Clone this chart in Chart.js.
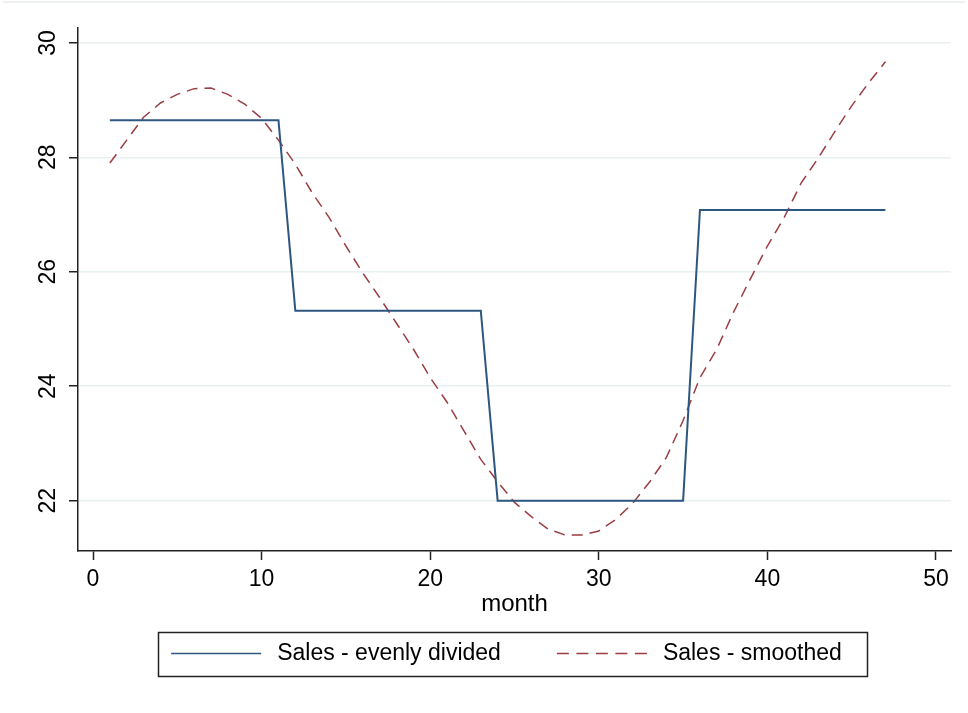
<!DOCTYPE html>
<html>
<head>
<meta charset="utf-8">
<title>Sales by month</title>
<script src="https://cdn.jsdelivr.net/npm/chart.js@4.4.1/dist/chart.umd.min.js"></script>
<style>
  html, body { margin: 0; padding: 0; background: #fff; }
  #wrap { width: 968px; height: 713px; }
</style>
</head>
<body>
<div id="wrap"><canvas id="myChart"></canvas></div>
<script>
const months = [
  1, 2, 3, 4, 5, 6, 7, 8, 9, 10, 11, 12, 13, 14, 15, 16,
  17, 18, 19, 20, 21, 22, 23, 24, 25, 26, 27, 28, 29, 30, 31, 32,
  33, 34, 35, 36, 37, 38, 39, 40, 41, 42, 43, 44, 45, 46, 47
];

const evenlyDivided = [
  28.65, 28.65, 28.65, 28.65, 28.65, 28.65, 28.65, 28.65, 28.65, 28.65, 28.65,
  25.32, 25.32, 25.32, 25.32, 25.32, 25.32, 25.32, 25.32, 25.32, 25.32, 25.32, 25.32,
  22.0, 22.0, 22.0, 22.0, 22.0, 22.0, 22.0, 22.0, 22.0, 22.0, 22.0, 22.0,
  27.08, 27.08, 27.08, 27.08, 27.08, 27.08, 27.08, 27.08, 27.08, 27.08, 27.08, 27.08
];

const smoothed = [
  27.90, 28.30, 28.70, 28.95, 29.10, 29.20, 29.21, 29.10, 28.93, 28.68,
  28.30, 27.88, 27.38, 26.95, 26.45, 25.98, 25.55, 25.10, 24.65, 24.15,
  23.72, 23.22, 22.72, 22.33, 21.97, 21.72, 21.50, 21.40, 21.40, 21.47,
  21.67, 21.95, 22.32, 22.75, 23.40, 24.15, 24.65, 25.30, 25.88, 26.45,
  26.95, 27.55, 27.98, 28.45, 28.90, 29.30, 29.67
];

const xTicks = [0, 10, 20, 30, 40, 50];
const yTicks = [22, 24, 26, 28, 30];

const seriesNames = ["Sales - evenly divided", "Sales - smoothed"];

const BLUE = "#2e5780";
const RED = "#9a3e44";
const FONT = "'Liberation Sans', Arial, sans-serif";
const KEY_GAP = 46; // blank space before each legend line sample

const toPoints = (ys) => months.map((m, i) => ({ x: m, y: ys[i] }));

// light frame line at the top and the box round the legend
const framePlugin = {
  id: "frame",
  beforeDraw(chart) {
    const c = chart.ctx;
    c.save();
    c.strokeStyle = "#edf1f1";
    c.lineWidth = 2;
    c.beginPath();
    c.moveTo(3, 2);
    c.lineTo(chart.width - 3, 2);
    c.stroke();
    c.restore();
  },
  afterDraw(chart) {
    const hb = chart.legend && chart.legend.legendHitBoxes;
    if (!hb || hb.length < 2) return;
    const c = chart.ctx;
    const left = hb[0].left + KEY_GAP - 13;
    const right = hb[1].left + hb[1].width + 25;
    const mid = hb[0].top + hb[0].height / 2;
    c.save();
    c.strokeStyle = "#222";
    c.lineWidth = 1.5;
    c.strokeRect(Math.round(left) + 0.5, Math.round(mid - 22) + 0.5,
      Math.round(right - left), 44);
    c.restore();
  },
};

const data = {
  datasets: [
    {
      label: seriesNames[0],
      data: toPoints(evenlyDivided),
      borderColor: BLUE,
      backgroundColor: BLUE,
      borderWidth: 2,
      pointRadius: 0,
      tension: 0,
    },
    {
      label: seriesNames[1],
      data: toPoints(smoothed),
      borderColor: RED,
      backgroundColor: RED,
      borderWidth: 1.5,
      borderDash: [11, 7],
      pointRadius: 0,
      tension: 0,
    },
  ],
};

const config = {
  type: "line",
  data: data,
  plugins: [framePlugin],
  options: {
    responsive: true,
    maintainAspectRatio: false,
    animation: false,
    layout: { padding: { left: 16, right: 17, top: 28, bottom: 38 } },
    plugins: {
      tooltip: { enabled: false },
      legend: {
        position: "bottom",
        labels: {
          color: "#000",
          font: { family: FONT, size: 23 },
          usePointStyle: true,
          pointStyle: "line",
          pointStyleWidth: KEY_GAP + 94.5,
          padding: 10,
          generateLabels(chart) {
            const items = Chart.defaults.plugins.legend.labels.generateLabels(chart);
            items[0].lineDash = [0, KEY_GAP, 90, 400];
            items[0].lineWidth = 1.5;
            items[1].lineDash = [0, KEY_GAP, 12, 7.5, 12, 7.5, 12, 7.5, 12, 7.5, 12, 400];
            items[1].lineWidth = 1.5;
            return items;
          },
        },
      },
    },
    scales: {
      x: {
        type: "linear",
        min: -0.89,
        max: 50.89,
        afterFit(scale) { scale.height = 81; },
        afterBuildTicks(scale) { scale.ticks = xTicks.map((v) => ({ value: v })); },
        border: { color: "#222", width: 1.5 },
        grid: {
          drawOnChartArea: false,
          drawTicks: true,
          tickLength: 9,
          tickColor: "#222",
          tickWidth: 1.5,
        },
        ticks: {
          color: "#000",
          padding: 6,
          maxRotation: 0,
          autoSkip: false,
          font: { family: FONT, size: 23 },
        },
        title: {
          display: true,
          text: "month",
          color: "#000",
          padding: { top: 0, bottom: 13 },
          font: { family: FONT, size: 24 },
        },
      },
      y: {
        min: 21.12,
        max: 30.26,
        afterFit(scale) { scale.width = 62; },
        afterBuildTicks(scale) { scale.ticks = yTicks.map((v) => ({ value: v })); },
        border: { color: "#222", width: 1.5 },
        grid: {
          color: "#e9f0f1",
          lineWidth: 1.5,
          tickLength: 9,
          tickColor: "#222",
          tickWidth: 1.5,
        },
        ticks: {
          color: "#000",
          padding: 8,
          minRotation: 90,
          maxRotation: 90,
          crossAlign: "center",
          autoSkip: false,
          font: { family: FONT, size: 23 },
        },
      },
    },
  },
};

const myChart = new Chart(document.getElementById("myChart").getContext("2d"), config);
</script>
</body>
</html>
